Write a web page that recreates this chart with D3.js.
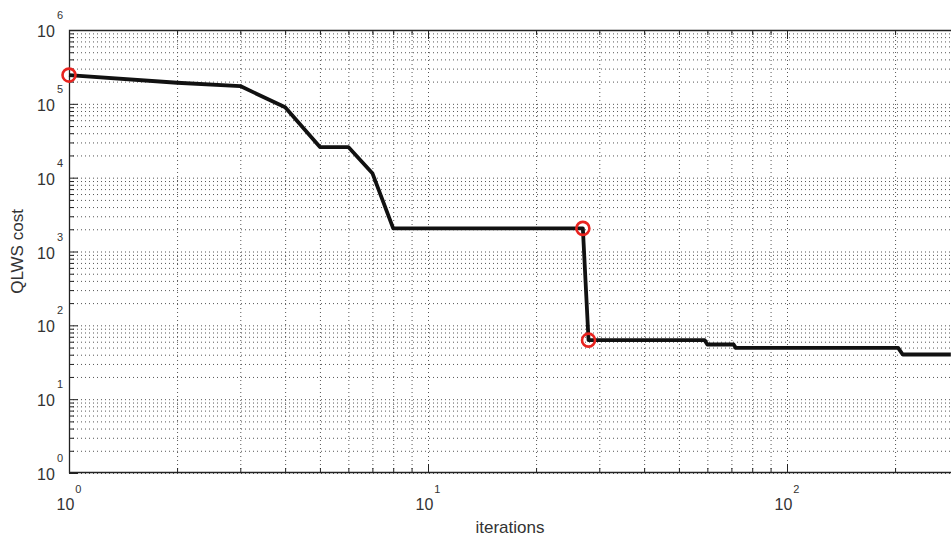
<!DOCTYPE html>
<html>
<head>
<meta charset="utf-8">
<script src="https://cdn.jsdelivr.net/npm/d3@7"></script>
<style>
  body { margin: 0; background: #fff; }
  svg { display: block; font-family: "Liberation Sans", Arial, Helvetica, sans-serif; }
</style>
</head>
<body>
<div id="chart"></div>
<script>
// cost per iteration (vertices only)
var iterations = [1, 2, 3, 4, 5, 6, 7, 8, 27, 28, 59, 60, 71, 72, 204, 210, 286];
var cost = [2.45e5, 1.93e5, 1.74e5, 9.0e4, 2.6e4, 2.6e4, 1.15e4, 2056, 2056, 63, 63, 55, 55, 49.5, 49.5, 40.3, 40.3];

// red circle markers
var markIter = [1, 27, 28];
var markCost = [2.45e5, 2056, 63];

var xMajor = [1, 10, 100];
var xMajorExp = ["0", "1", "2"];
var yMajor = [1, 10, 100, 1000, 1e4, 1e5, 1e6];
var yMajorExp = ["0", "1", "2", "3", "4", "5", "6"];

var W = 951, H = 537;
var margin = { top: 30, right: 0, bottom: 64, left: 69 },
    width = W - margin.left - margin.right,
    height = H - margin.top - margin.bottom;

var svg = d3.select("#chart").append("svg")
    .attr("width", W)
    .attr("height", H);

var g = svg.append("g")
    .attr("transform", "translate(" + margin.left + "," + margin.top + ")");

var x = d3.scaleLog().domain([1, 286.3]).range([0, width]);
var y = d3.scaleLog().domain([1, 1e6]).range([height, 0]);

// minor positions 2..9 per decade
var xMinor = [], yMinor = [];
[1, 10, 100].forEach(function (d) {
    for (var k = 2; k <= 9; k++) if (d * k <= 286) xMinor.push(d * k);
});
[1, 10, 100, 1000, 1e4, 1e5].forEach(function (d) {
    for (var k = 2; k <= 9; k++) yMinor.push(d * k);
});

// dotted grid
var gridStyle = function (sel) {
    sel.select(".domain").remove();
    sel.selectAll("text").remove();
    sel.selectAll("line")
        .attr("stroke", "#555")
        .attr("stroke-width", 1)
        .attr("stroke-dasharray", "1,3");
};
g.append("g")
    .attr("transform", "translate(0," + height + ")")
    .call(d3.axisBottom(x).tickValues(xMajor.concat(xMinor)).tickSize(-height).tickFormat(""))
    .call(gridStyle);
g.append("g")
    .call(d3.axisLeft(y).tickValues(yMajor.concat(yMinor)).tickSize(-width).tickFormat(""))
    .call(gridStyle);

// axis ticks (inside, matlab style)
var tickStyle = function (sel) {
    sel.select(".domain").remove();
    sel.selectAll("text").remove();
    sel.selectAll("line").attr("stroke", "#222").attr("stroke-width", 1);
};
g.append("g").attr("transform", "translate(0," + height + ")")
    .call(d3.axisBottom(x).tickValues(xMajor).tickSize(-9)).call(tickStyle);
g.append("g").attr("transform", "translate(0," + height + ")")
    .call(d3.axisBottom(x).tickValues(xMinor).tickSize(-5)).call(tickStyle);
g.append("g")
    .call(d3.axisTop(x).tickValues(xMajor).tickSize(-9)).call(tickStyle);
g.append("g")
    .call(d3.axisTop(x).tickValues(xMinor).tickSize(-5)).call(tickStyle);
g.append("g")
    .call(d3.axisLeft(y).tickValues(yMajor).tickSize(-9)).call(tickStyle);
g.append("g")
    .call(d3.axisLeft(y).tickValues(yMinor).tickSize(-5)).call(tickStyle);

// box (left, bottom, top)
g.append("path")
    .attr("d", "M" + width + ",0.5H0.5V" + (height - 0.5) + "H" + width)
    .attr("fill", "none")
    .attr("stroke", "#222")
    .attr("stroke-width", 1.3);

// tick labels 10^n
g.selectAll(".xlab")
    .data(xMajor)
    .enter()
    .append("text")
    .attr("x", function (d) { return x(d); })
    .attr("y", height + 37)
    .attr("text-anchor", "middle")
    .attr("fill", "#333")
    .style("font-size", "16px")
    .each(function (d, i) {
        var t = d3.select(this);
        t.append("tspan").text("10");
        t.append("tspan").attr("dx", 1).attr("dy", -17).style("font-size", "11px").text(xMajorExp[i]);
    });

g.selectAll(".ylab")
    .data(yMajor)
    .enter()
    .append("text")
    .attr("x", -6)
    .attr("y", function (d) { return y(d) + 7; })
    .attr("text-anchor", "end")
    .attr("fill", "#333")
    .style("font-size", "16px")
    .each(function (d, i) {
        var t = d3.select(this);
        t.append("tspan").text("10");
        t.append("tspan").attr("dx", 2).attr("dy", -18).style("font-size", "11px").text(yMajorExp[i]);
    });

// axis titles
svg.append("text")
    .attr("x", margin.left + width / 2)
    .attr("y", 533)
    .attr("text-anchor", "middle")
    .attr("fill", "#333")
    .style("font-size", "17px")
    .text("iterations");

svg.append("text")
    .attr("transform", "translate(23," + (margin.top + height / 2) + ") rotate(-90)")
    .attr("text-anchor", "middle")
    .attr("fill", "#333")
    .style("font-size", "17px")
    .text("QLWS cost");

// cost line
var line = d3.line()
    .x(function (d, i) { return x(iterations[i]); })
    .y(function (d) { return y(d); });

g.append("path")
    .datum(cost)
    .attr("d", line)
    .attr("fill", "none")
    .attr("stroke", "#111")
    .attr("stroke-width", 3.8)
    .attr("stroke-linejoin", "round");

g.selectAll(".mark")
    .data(markCost)
    .enter()
    .append("circle")
    .attr("cx", function (d, i) { return x(markIter[i]); })
    .attr("cy", function (d) { return y(d); })
    .attr("r", 6.5)
    .attr("fill", "none")
    .attr("stroke", "#e8231f")
    .attr("stroke-width", 2.6);
</script>
</body>
</html>
